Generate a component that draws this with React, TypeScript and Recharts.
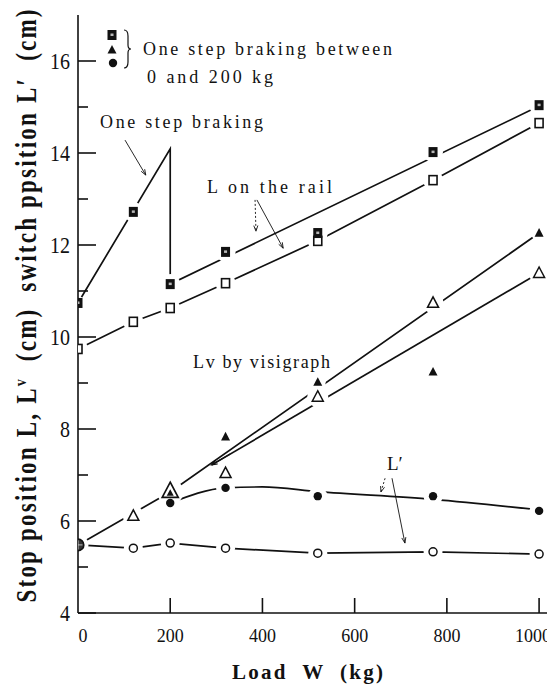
import React from "react";
import { ComposedChart, Scatter, XAxis, YAxis, ReferenceLine, Curve } from "recharts";

// load W (kg) of each run
const loads = [0, 120, 200, 320, 520, 770, 1000];

// L on the rail (cm)
const railBraked = [10.74, 12.72, 11.15, 11.85, 12.26, 14.02, 15.04];
const railPlain = [9.74, 10.33, 10.63, 11.17, 12.09, 13.41, 14.65];
// Lv by visigraph (cm)
const lvPlain = [5.48, 6.11, 6.63, 7.04, 8.7, 10.74, 11.39];
const lvBraked = [null, null, 6.63, 7.83, 9.02, 9.24, 12.26];
// switch position L' (cm)
const lpBraked = [null, null, 6.39, 6.72, 6.54, 6.54, 6.22];
const lpPlain = [5.48, 5.41, 5.52, 5.41, 5.3, 5.33, 5.28];

// drawn-in trend lines
const railBrakedFitW = [0, 200, 200, 1000];
const railBrakedFitV = [10.74, 14.09, 11.15, 15.02];
const lvUpperFitW = [0, 200, 1000];
const lvUpperFitV = [5.48, 6.63, 12.26];
const lvLowerFitW = [290, 1000];
const lvLowerFitV = [7.22, 11.39];
const lpBrakedFitW = [200, 320, 400, 520, 770, 1000];
const lpBrakedFitV = [6.39, 6.72, 6.74, 6.64, 6.47, 6.24];

const xTicks = [0, 200, 400, 600, 800, 1000];
const yTicks = [4, 5, 6, 7, 8, 9, 10, 11, 12, 13, 14, 15, 16];

const INK = "#111";
const SERIF = "'Liberation Serif', 'DejaVu Serif', serif";

type Pt = { w: number; v: number };
const pts = (ws: number[], vs: (number | null)[]): Pt[] =>
  ws.map((w, i) => ({ w, v: vs[i] as number })).filter((p) => p.v != null);

const railBrakedPts = pts(loads, railBraked);
const railPlainPts = pts(loads, railPlain);
const lvPlainPts = pts(loads, lvPlain);
const lvBrakedPts = pts(loads, lvBraked);
const lpBrakedPts = pts(loads, lpBraked);
const lpPlainPts = pts(loads, lpPlain);

const railBrakedFit = pts(railBrakedFitW, railBrakedFitV);
const lvUpperFit = pts(lvUpperFitW, lvUpperFitV);
const lvLowerFit = pts(lvLowerFitW, lvLowerFitV);
const lpBrakedFit = pts(lpBrakedFitW, lpBrakedFitV);

// clear space round every marker, cut out of the lines
const gapSets: { list: Pt[]; r: (p: Pt) => number }[] = [
  { list: railPlainPts, r: () => 10 },
  { list: railBrakedPts, r: (p) => (p.w === 0 ? 7 : 10) },
  { list: lvPlainPts, r: (p) => (p.w === 200 ? 13 : 10.5) },
  { list: lvBrakedPts, r: (p) => (p.w === 200 ? 0 : 8) },
  { list: lpPlainPts, r: () => 9.5 },
  { list: lpBrakedPts, r: () => 9.5 },
];

// marker glyphs
const SqFilled = ({ cx, cy }: any) => (
  <g>
    <rect x={cx - 4.5} y={cy - 5} width={9} height={10} fill={INK} />
    <rect x={cx - 1.5} y={cy - 1.5} width={3} height={2.5} fill="#fff" opacity={0.7} />
  </g>
);
const SqOpen = ({ cx, cy }: any) => (
  <rect x={cx - 4} y={cy - 4.5} width={8} height={9} fill="#fff" stroke={INK} strokeWidth={1.6} />
);
const tri = (cx: number, cy: number, s: number) =>
  `${cx},${cy - s * 0.55} ${cx + s / 2},${cy + s * 0.4} ${cx - s / 2},${cy + s * 0.4}`;
const TriOpen = ({ cx, cy }: any) => (
  <polygon points={tri(cx, cy, 11)} fill="#fff" stroke={INK} strokeWidth={1.5} />
);
const TriFilled = ({ cx, cy }: any) => <polygon points={tri(cx, cy, 9)} fill={INK} />;
const DotFilled = ({ cx, cy }: any) => <circle cx={cx} cy={cy} r={4.2} fill={INK} />;
const DotOpen = ({ cx, cy }: any) => (
  <circle cx={cx} cy={cy} r={4} fill="#fff" stroke={INK} strokeWidth={1.5} />
);
const Origin = ({ cx, cy }: any) => (
  <g>
    <circle cx={cx} cy={cy} r={5.8} fill="#333" stroke={INK} strokeWidth={1.6} />
    <line x1={cx - 4.5} x2={cx + 4.5} y1={cy} y2={cy} stroke="#ccc" strokeWidth={0.9} />
    <line x1={cx} x2={cx} y1={cy - 4.5} y2={cy + 4.5} stroke="#ccc" strokeWidth={0.9} />
  </g>
);
const TriDouble = ({ cx, cy }: any) => (
  <g>
    <polygon points={tri(cx, cy - 1, 16)} fill="#fff" stroke={INK} strokeWidth={1.7} />
    <polygon points={tri(cx, cy + 1, 7)} fill={INK} />
  </g>
);
const NoMark = () => <g />;

// A series line hung on a reference segment from its first to its last point;
// the segment's plotted ends give the pixel mapping for the points between,
// and a mask cuts the line back from every marker.
const seriesLine = (id: string, data: Pt[], curve: string = "linear") => (props: any) => {
  const { x1, y1, x2, y2 } = props;
  const da = data[0];
  const db = data[data.length - 1];
  const sx = (x2 - x1) / (db.w - da.w);
  const sy = (y2 - y1) / (db.v - da.v);
  const px = (q: Pt) => ({ x: x1 + (q.w - da.w) * sx, y: y1 + (q.v - da.v) * sy });
  return (
    <g>
      <defs>
        <mask id={id} maskUnits="userSpaceOnUse" x={0} y={0} width={2000} height={2000}>
          <rect x={0} y={0} width={2000} height={2000} fill="#fff" />
          {gapSets.flatMap((set, si) =>
            set.list.map((q, qi) => {
              const c = px(q);
              return <circle key={`${si}-${qi}`} cx={c.x} cy={c.y} r={set.r(q)} fill="#000" />;
            })
          )}
        </mask>
      </defs>
      <g mask={`url(#${id})`}>
        <Curve points={data.map(px)} type={curve as any} stroke={INK} strokeWidth={1.7} fill="none" />
      </g>
    </g>
  );
};

const Arrow = ({ x1, y1, x2, y2, dashed, width }: any) => {
  const a = Math.atan2(y2 - y1, x2 - x1);
  const h = 6;
  const b1x = x2 - h * Math.cos(a - 0.35);
  const b1y = y2 - h * Math.sin(a - 0.35);
  const b2x = x2 - h * Math.cos(a + 0.35);
  const b2y = y2 - h * Math.sin(a + 0.35);
  return (
    <g stroke={INK} strokeWidth={width || 0.9} fill="none">
      <line x1={x1} y1={y1} x2={x2} y2={y2} strokeDasharray={dashed ? "2 2" : undefined} />
      <polyline points={`${b1x},${b1y} ${x2},${y2} ${b2x},${b2y}`} />
    </g>
  );
};

const XTick = ({ x, y, payload }: any) => {
  const v = payload.value;
  const shift = v === 0 ? 5 : v === 1000 ? -6 : 0;
  return (
    <g>
      {v !== 0 && <line x1={x} x2={x} y1={y} y2={y - 15} stroke={INK} strokeWidth={1.6} />}
      <text
        transform={`translate(${x + shift},${y + 29}) scale(1,1.1)`}
        textAnchor="middle"
        fontSize={18}
        fontFamily={SERIF}
        fill={INK}
      >
        {v}
      </text>
    </g>
  );
};

const YTick = ({ x, y, payload }: any) => {
  const v = payload.value;
  const major = v % 2 === 0;
  return (
    <g>
      <line x1={x} x2={x + (major ? 18 : 10)} y1={y} y2={y} stroke={INK} strokeWidth={1.6} />
      {major && (
        <text
          transform={`translate(${x - 8},${y + 7.5}) scale(1,1.15)`}
          textAnchor="end"
          fontSize={20}
          fontFamily={SERIF}
          fill={INK}
        >
          {v}
        </text>
      )}
    </g>
  );
};

const ends = (data: Pt[]) => [
  { x: data[0].w, y: data[0].v },
  { x: data[data.length - 1].w, y: data[data.length - 1].v },
];

const markSeries = { isAnimationActive: false, legendType: "none" as const };
const textStyle = { fontFamily: SERIF, fill: INK, whiteSpace: "pre" as const };

export default function App() {
  return (
    <div style={{ position: "relative", width: 547, height: 678 }}>
      <ComposedChart width={547} height={678} margin={{ top: 7, right: 3, bottom: 0, left: 0 }}>
        <XAxis
          type="number"
          dataKey="w"
          domain={[0, 1028]}
          ticks={xTicks}
          interval={0}
          allowDataOverflow
          tickSize={0}
          tickMargin={0}
          height={73}
          tick={(p: any) => <XTick {...p} />}
          axisLine={{ stroke: INK, strokeWidth: 1.6 }}
        />
        <YAxis
          type="number"
          dataKey="v"
          domain={[4, 17]}
          ticks={yTicks}
          interval={0}
          allowDataOverflow
          tickSize={0}
          tickMargin={0}
          width={70}
          tick={(p: any) => <YTick {...p} />}
          axisLine={{ stroke: INK, strokeWidth: 1.6 }}
        />

        <ReferenceLine segment={ends(railBrakedFit)} shape={seriesLine("gap-rb", railBrakedFit)} />
        <ReferenceLine segment={ends(railPlainPts)} shape={seriesLine("gap-rp", railPlainPts)} />
        <ReferenceLine segment={ends(lvUpperFit)} shape={seriesLine("gap-lu", lvUpperFit)} />
        <ReferenceLine segment={ends(lvLowerFit)} shape={seriesLine("gap-ll", lvLowerFit)} />
        <ReferenceLine segment={ends(lpBrakedFit)} shape={seriesLine("gap-pb", lpBrakedFit, "monotoneX")} />
        <ReferenceLine segment={ends(lpPlainPts)} shape={seriesLine("gap-pp", lpPlainPts)} />

        <Scatter {...markSeries} data={railPlainPts} shape={(p: any) => <SqOpen {...p} />} />
        <Scatter {...markSeries} data={railBrakedPts} shape={(p: any) => <SqFilled {...p} />} />
        <Scatter
          {...markSeries}
          data={lvPlainPts}
          shape={(p: any) =>
            p.payload.w === 0 ? <Origin {...p} /> : p.payload.w === 200 ? <TriDouble {...p} /> : <TriOpen {...p} />
          }
        />
        <Scatter
          {...markSeries}
          data={lvBrakedPts}
          shape={(p: any) => (p.payload.w === 200 ? <NoMark /> : <TriFilled {...p} />)}
        />
        <Scatter
          {...markSeries}
          data={lpPlainPts}
          shape={(p: any) => (p.payload.w === 0 ? <NoMark /> : <DotOpen {...p} />)}
        />
        <Scatter {...markSeries} data={lpBrakedPts} shape={(p: any) => <DotFilled {...p} />} />

        {/* annotation pointers */}
        <ReferenceLine
          segment={[{ x: 330, y: 7.455 }, { x: 290, y: 7.22 }]}
          shape={(p: any) => <Arrow {...p} width={1.2} />}
        />
        <ReferenceLine segment={[{ x: 102, y: 14.28 }, { x: 147, y: 13.52 }]} shape={(p: any) => <Arrow {...p} />} />
        <ReferenceLine
          segment={[{ x: 384, y: 12.98 }, { x: 386, y: 12.3 }]}
          shape={(p: any) => <Arrow {...p} dashed />}
        />
        <ReferenceLine segment={[{ x: 388, y: 12.98 }, { x: 445, y: 11.93 }]} shape={(p: any) => <Arrow {...p} />} />
        <ReferenceLine
          segment={[{ x: 666, y: 6.93 }, { x: 657, y: 6.63 }]}
          shape={(p: any) => <Arrow {...p} dashed />}
        />
        <ReferenceLine segment={[{ x: 681, y: 6.93 }, { x: 709, y: 5.52 }]} shape={(p: any) => <Arrow {...p} />} />
      </ComposedChart>

      <svg
        width={547}
        height={678}
        style={{ position: "absolute", left: 0, top: 0, pointerEvents: "none" }}
      >
        {/* key for the one-step braking symbols */}
        <SqFilled cx={104} cy={27} />
        <TriFilled cx={104} cy={42} />
        <DotFilled cx={105} cy={55} />
        <path
          d="M116,22 Q120,22 120,28 L120,37 Q120,41 123,41 Q120,41 120,45 L120,54 Q120,60 116,60"
          fill="none"
          stroke={INK}
          strokeWidth={1.2}
        />
        <text x={135} y={47} fontSize={18} textLength={249} lengthAdjust="spacing" style={textStyle}>
          One step braking between
        </text>
        <text x={139} y={75} fontSize={18} textLength={126} lengthAdjust="spacing" style={textStyle}>
          0 and 200 kg
        </text>
        <text x={92} y={120} fontSize={18} textLength={163} lengthAdjust="spacing" style={textStyle}>
          One step braking
        </text>
        <text x={199} y={185} fontSize={18} textLength={125} lengthAdjust="spacing" style={textStyle}>
          L on the rail
        </text>
        <text x={185} y={360} fontSize={18} textLength={137} lengthAdjust="spacing" style={textStyle}>
          Lv by visigraph
        </text>
        <text x={379} y={462} fontSize={19} style={textStyle}>
          L′
        </text>

        <text
          transform="translate(28,298) rotate(-90) scale(1,1.25)"
          textAnchor="middle"
          fontSize={23}
          fontWeight="bold"
          textLength={593}
          lengthAdjust="spacing"
          style={textStyle}
        >
          Stop position L, L
          <tspan fontSize={14} dy={-8}>
            v
          </tspan>
          <tspan dy={8}>{"  (cm)  switch ppsition L′  (cm)"}</tspan>
        </text>
        <text
          x={299.5}
          y={671}
          textAnchor="middle"
          fontSize={21}
          fontWeight="bold"
          textLength={151}
          lengthAdjust="spacing"
          style={textStyle}
        >
          {"Load  W  (kg)"}
        </text>
      </svg>
    </div>
  );
}
